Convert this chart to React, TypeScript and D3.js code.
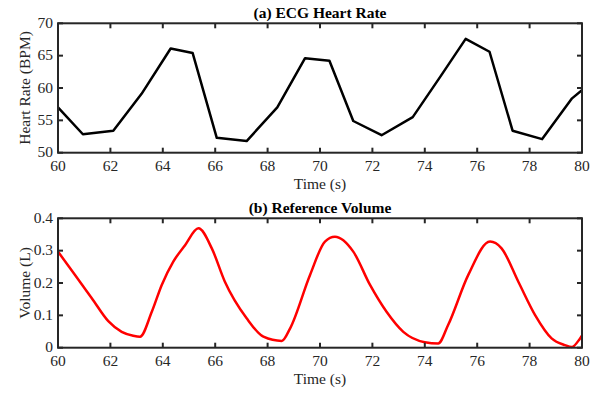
import React from "react";
import * as d3 from "d3";

const hrTime = [60, 60.95, 62.11, 63.19, 64.3, 65.14, 66.06, 67.2, 68.37, 69.43, 70.36, 71.27, 72.35, 73.54, 74.6, 75.56, 76.47, 77.35, 78.48, 79.62, 80.7];
const hrValue = [57.0, 52.85, 53.4, 59.1, 66.1, 65.4, 52.3, 51.8, 57.0, 64.6, 64.2, 54.9, 52.7, 55.5, 61.8, 67.6, 65.6, 53.4, 52.1, 58.4, 62.0];

const volTime = [60, 60.65, 61.29, 61.92, 62.43, 62.87, 63.13, 63.58, 63.96, 64.4, 64.85, 65.36, 65.87, 66.37, 67.2, 67.84, 68.54, 68.86, 69.62, 70.19, 70.57, 71.27, 71.91, 72.54, 73.18, 74.0, 74.51, 74.89, 75.66, 76.49, 76.93, 77.57, 78.21, 78.84, 79.35, 79.61, 79.92, 80.1];
const volValue = [0.297, 0.225, 0.153, 0.082, 0.049, 0.037, 0.034, 0.111, 0.194, 0.266, 0.317, 0.369, 0.307, 0.204, 0.091, 0.034, 0.021, 0.06, 0.225, 0.328, 0.343, 0.297, 0.194, 0.111, 0.049, 0.017, 0.013, 0.07, 0.225, 0.328, 0.307, 0.204, 0.101, 0.029, 0.008, 0.002, 0.028, 0.05];

const xTicks = [60, 62, 64, 66, 68, 70, 72, 74, 76, 78, 80];
const hrTicks = [50, 55, 60, 65, 70];
const volTicks = [0, 0.1, 0.2, 0.3, 0.4];
const volTickLabels = ["0", "0.1", "0.2", "0.3", "0.4"];

const W = 597, H = 395;
const left = 58, right = 582;
const font = "'Liberation Serif', 'Times New Roman', serif";

type PanelProps = {
  top: number; bottom: number; title: string; ylabel: string;
  yDomain: [number, number]; yTicks: number[]; yLabels: string[];
  xs: number[]; ys: number[]; color: string; curve: d3.CurveFactory; id: string;
};

function Panel(p: PanelProps) {
  const x = d3.scaleLinear().domain([60, 80]).range([left, right]);
  const y = d3.scaleLinear().domain(p.yDomain).range([p.bottom, p.top]);
  const pts: [number, number][] = p.xs.map((t, i) => [t, p.ys[i]]);
  const line = d3.line<[number, number]>().x(d => x(d[0])).y(d => y(d[1])).curve(p.curve);
  const tl = 5;
  const axisColor = "#262626";
  return (
    <g>
      <defs>
        <clipPath id={p.id}>
          <rect x={left} y={p.top - 2} width={right - left} height={p.bottom - p.top + 4} />
        </clipPath>
      </defs>
      <path d={line(pts) || ""} fill="none" stroke={p.color} strokeWidth={2.5} strokeLinejoin="round" clipPath={`url(#${p.id})`} />
      <rect x={left} y={p.top} width={right - left} height={p.bottom - p.top} fill="none" stroke={axisColor} strokeWidth={2} />
      {xTicks.map(t => (
        <g key={"x" + t}>
          <line x1={x(t)} x2={x(t)} y1={p.bottom} y2={p.bottom - tl} stroke={axisColor} strokeWidth={2} />
          <line x1={x(t)} x2={x(t)} y1={p.top} y2={p.top + tl} stroke={axisColor} strokeWidth={2} />
          <text x={x(t)} y={p.bottom + 18.5} textAnchor="middle" fontFamily={font} fontSize={15.5} fill="#262626">{t}</text>
        </g>
      ))}
      {p.yTicks.map((t, i) => (
        <g key={"y" + t}>
          <line x1={left} x2={left + tl} y1={y(t)} y2={y(t)} stroke={axisColor} strokeWidth={2} />
          <line x1={right} x2={right - tl} y1={y(t)} y2={y(t)} stroke={axisColor} strokeWidth={2} />
          <text x={left - 5} y={y(t) + 4.5} textAnchor="end" fontFamily={font} fontSize={15.5} fill="#262626">{p.yLabels[i]}</text>
        </g>
      ))}
      <text x={(left + right) / 2} y={p.top - 5} textAnchor="middle" fontFamily={font} fontSize={15.5} fontWeight="bold" fill="#000">{p.title}</text>
      <text x={(left + right) / 2} y={p.bottom + 36} textAnchor="middle" fontFamily={font} fontSize={15.5} fill="#262626">Time (s)</text>
      <text transform={`translate(30,${(p.top + p.bottom) / 2}) rotate(-90)`} textAnchor="middle" fontFamily={font} fontSize={15.5} fill="#262626">{p.ylabel}</text>
    </g>
  );
}

export default function App() {
  return (
    <svg width={W} height={H} style={{ position: "absolute", left: 0, top: 0, background: "#fff" }}>
      <rect width={W} height={H} fill="#fff" />
      <Panel top={23.3} bottom={152.7} title="(a) ECG Heart Rate" ylabel="Heart Rate (BPM)"
        yDomain={[50, 70]} yTicks={hrTicks} yLabels={hrTicks.map(String)}
        xs={hrTime} ys={hrValue} color="#000" curve={d3.curveLinear} id="c1" />
      <Panel top={218.3} bottom={347.7} title="(b) Reference Volume" ylabel="Volume (L)"
        yDomain={[0, 0.4]} yTicks={volTicks} yLabels={volTickLabels}
        xs={volTime} ys={volValue} color="#ff0000" curve={d3.curveMonotoneX} id="c2" />
    </svg>
  );
}
